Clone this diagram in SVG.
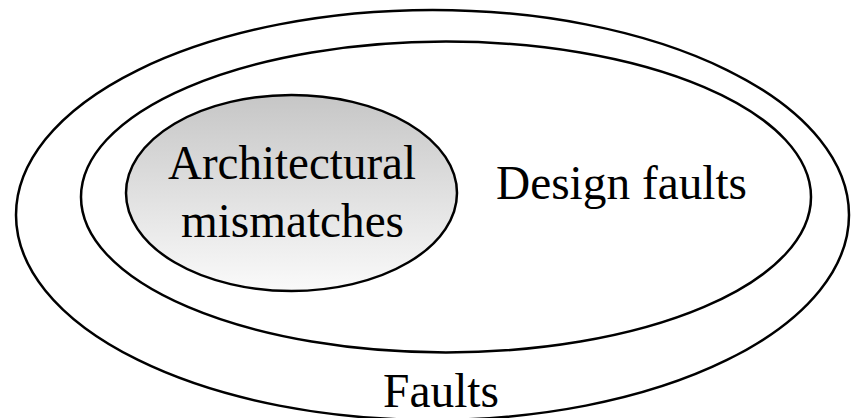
<svg xmlns="http://www.w3.org/2000/svg" width="851" height="418" viewBox="0 0 851 418">
  <style>
    .ring { fill: none; stroke: #000; stroke-width: 2.5; }
    .label { font-family: "Liberation Serif", "Times New Roman", serif; font-size: 48px; fill: #000; }
  </style>
  <defs>
    <linearGradient id="grayFade" x1="0" y1="0" x2="0" y2="1">
      <stop offset="0" stop-color="#c6c6c6"/>
      <stop offset="1" stop-color="#fafafa"/>
    </linearGradient>
  </defs>
  <rect width="851" height="418" fill="#fff"/>
  <!-- outermost set: all faults -->
  <g id="faults">
    <ellipse class="ring" cx="432.5" cy="215" rx="416.5" ry="205"/>
    <text class="label" x="383" y="407" textLength="116" lengthAdjust="spacingAndGlyphs">Faults</text>
  </g>
  <!-- design faults subset -->
  <g id="design-faults">
    <ellipse class="ring" cx="446" cy="197" rx="365" ry="155.5"/>
    <text class="label" x="496" y="199" font-size="43" textLength="251" lengthAdjust="spacingAndGlyphs">Design faults</text>
  </g>
  <!-- innermost shaded subset -->
  <g id="architectural-mismatches">
    <ellipse cx="291.5" cy="193" rx="165.5" ry="98" fill="url(#grayFade)" stroke="#000" stroke-width="2.5"/>
    <text class="label" x="168" y="179" textLength="248" lengthAdjust="spacingAndGlyphs">Architectural</text>
    <text class="label" x="181" y="237" textLength="223" lengthAdjust="spacingAndGlyphs">mismatches</text>
  </g>
  <g id="connectors"/>
</svg>
